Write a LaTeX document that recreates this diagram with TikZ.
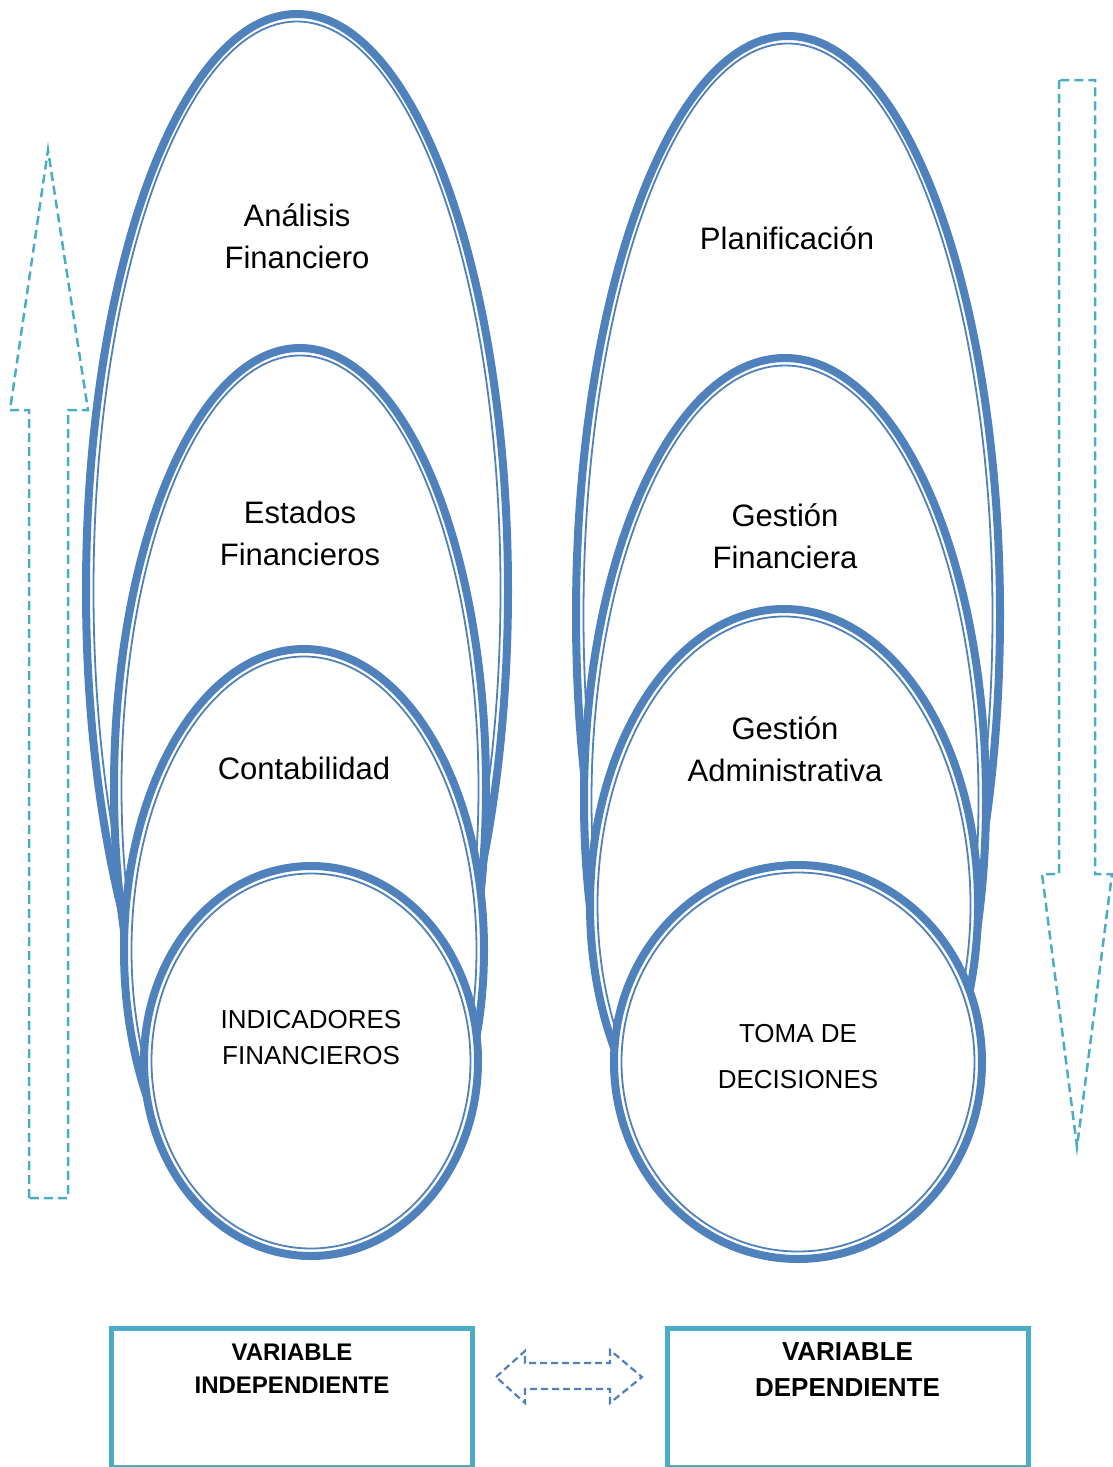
\documentclass[tikz,border=0pt]{standalone}
\usepackage{fontspec}
\setmainfont{Liberation Sans}
\usepackage{xcolor}
\usetikzlibrary{positioning}
\definecolor{azul}{RGB}{79,129,189}
\definecolor{turquesa}{RGB}{75,172,198}
\tikzset{borde/.style={azul,line width=8pt,fill=white},
  bordefino/.style={azul,line width=1.8pt},
  flechaV/.style={turquesa,line width=2.5pt,dash pattern=on 9pt off 5pt,line join=miter},
  flechaH/.style={azul,line width=2.2pt,dash pattern=on 7pt off 4pt},
  caja/.style={draw=turquesa,line width=5pt,minimum width=361pt,minimum height=139pt,anchor=north},
  grande/.style={align=center,font={\fontsize{31}{42}\selectfont}},
  chico/.style={align=center,font={\fontsize{26}{36}\selectfont}}}
\newcommand{\dobleelipse}[4]{%
\draw[borde] (#1,#2) ellipse ({(#3-4)*1pt} and {(#4-4)*1pt});
\draw[bordefino] (#1,#2) ellipse ({(#3-11.5)*1pt} and {(#4-11.5)*1pt});}

\begin{document}
\begin{tikzpicture}[x=1pt,y=-1pt]
\useasboundingbox (0,0) rectangle (1113,1467);
\dobleelipse{297}{590}{215}{580}
\dobleelipse{300}{788}{190}{444}
\dobleelipse{304}{950}{184}{305}
\dobleelipse{311}{1061}{171}{199}
\dobleelipse{788}{615}{216}{583}
\dobleelipse{785}{800}{205}{446}
\dobleelipse{784}{905}{198}{300}
\dobleelipse{798}{1062}{188}{201}
\node[grande] (analisis) at (297,236) {Análisis\\Financiero};
\node[grande] (estados) at (300,533) {Estados\\Financieros};
\node[grande] (conta) at (304,768) {Contabilidad};
\node[chico] (indic) at (311,1038) {INDICADORES\\FINANCIEROS};
\node[grande] (plan) at (787,238) {Planificación};
\node[grande] (gfin) at (785,536) {Gestión\\Financiera};
\node[grande] (gadm) at (785,749) {Gestión\\Administrativa};
\node[align=center,font={\fontsize{26}{46}\selectfont}] (toma) at (798,1057) {TOMA DE\\DECISIONES};
\draw[flechaV] (29,1198) -- (29,410) -- (10,410) -- (48,150) -- (88,410) -- (68,410) -- (68,1198) -- cycle;
\draw[flechaV] (1059,80) -- (1059,874) -- (1042,874) -- (1077,1147) -- (1112,874) -- (1095,874) -- (1095,80) -- cycle;
\node[caja] (vi) at (292,1325.5) {};
\node[caja] (vd) at (847.5,1325.5) {};
\node[align=center,font={\fontsize{24}{33}\bfseries\selectfont},below=15pt of vi.north] (tvi) {VARIABLE\\INDEPENDIENTE};
\node[align=center,font={\fontsize{26}{36}\bfseries\selectfont},below=14pt of vd.north] (tvd) {VARIABLE\\DEPENDIENTE};
\draw[flechaH] (496,1377) -- (525,1351) -- (525,1363) -- (610,1363) -- (610,1350) -- (642,1377) -- (610,1403) -- (610,1389) -- (525,1389) -- (525,1403) -- cycle;
\end{tikzpicture}
\end{document}
